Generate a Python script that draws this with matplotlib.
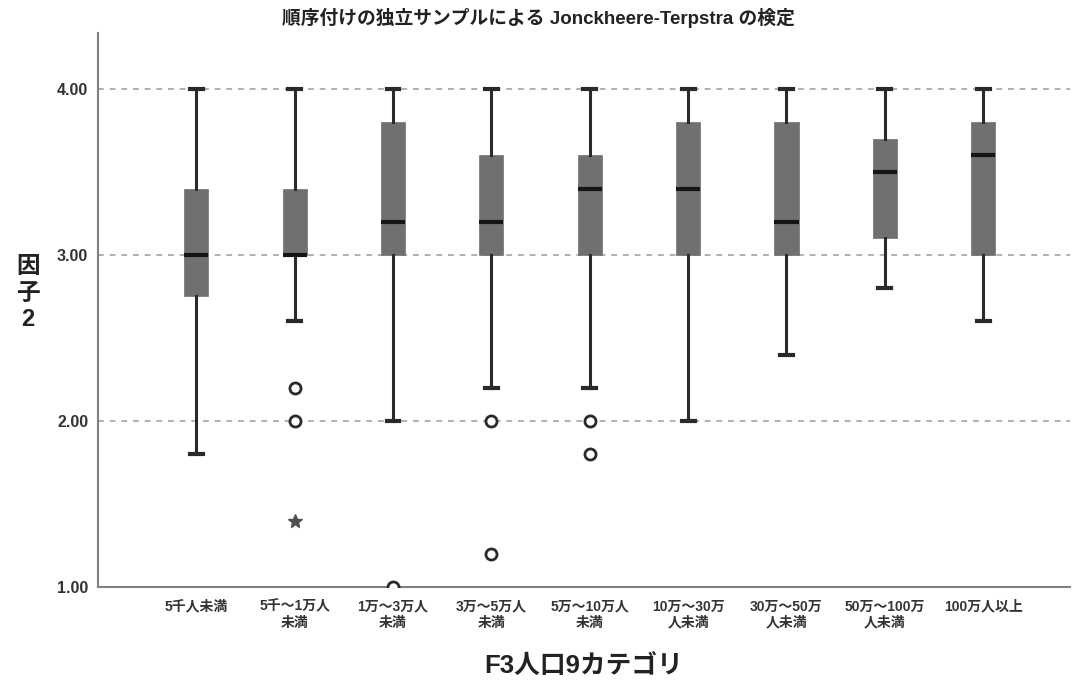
import matplotlib
matplotlib.use("Agg")
import matplotlib.pyplot as plt

# Latin glyphs from Liberation Sans, Japanese falls through to Noto CJK
plt.rcParams['font.family'] = ['Liberation Sans', 'Noto Sans CJK JP', 'DejaVu Sans']

# population categories (x axis)
categories = ["5千人未満", "5千～1万人\n未満", "1万～3万人\n未満", "3万～5万人\n未満",
              "5万～10万人\n未満", "10万～30万\n人未満", "30万～50万\n人未満",
              "50万～100万\n人未満", "100万人以上"]

# box statistics
whisker_low = [1.8, 2.6, 2.0, 2.2, 2.2, 2.0, 2.4, 2.8, 2.6]
q1 = [2.75, 3.0, 3.0, 3.0, 3.0, 3.0, 3.0, 3.1, 3.0]
medians = [3.0, 3.0, 3.2, 3.2, 3.4, 3.4, 3.2, 3.5, 3.6]
q3 = [3.4, 3.4, 3.8, 3.6, 3.6, 3.8, 3.8, 3.7, 3.8]
whisker_high = [4.0, 4.0, 4.0, 4.0, 4.0, 4.0, 4.0, 4.0, 4.0]

# outliers (circles) and extremes (stars)
outliers = [[], [2.2, 2.0], [1.0], [2.0, 1.2], [2.0, 1.8], [], [], [], []]
extremes = [[], [1.4], [], [], [], [], [], [], []]

yticks = [1.0, 2.0, 3.0, 4.0]

fig = plt.figure(figsize=(10.73, 6.8), dpi=100)
ax = fig.add_axes([0.0913, 0.1368, 0.9057, 0.8147])

stats = []
for i in range(len(categories)):
    stats.append({'whislo': whisker_low[i], 'q1': q1[i], 'med': medians[i],
                  'q3': q3[i], 'whishi': whisker_high[i], 'fliers': outliers[i]})

pos = list(range(1, len(categories) + 1))
ax.bxp(stats, positions=pos, widths=0.245, patch_artist=True,
       boxprops=dict(facecolor='#707070', edgecolor='#707070', linewidth=0.5),
       medianprops=dict(color='#151515', linewidth=3),
       whiskerprops=dict(color='#2a2a2a', linewidth=2.2),
       capprops=dict(color='#2a2a2a', linewidth=3),
       capwidths=0.13,
       flierprops=dict(marker='o', markersize=8, markerfacecolor='white',
                       markeredgecolor='#2a2a2a', markeredgewidth=2),
       zorder=3)

for p, ext in zip(pos, extremes):
    if ext:
        ax.plot([p] * len(ext), ext, linestyle='none', marker='*', markersize=10,
                color='#505050', zorder=4)

for y in yticks[1:]:
    ax.axhline(y, color='#b0b0b0', linestyle=(0, (3, 3)), linewidth=1.4, zorder=1)

ax.set_xlim(0, 9.88)
ax.set_ylim(1.0, 4.337)
ax.set_yticks(yticks)
ax.set_yticklabels(["%.2f" % v for v in yticks], fontsize=11.5, fontweight='bold',
                   color='#333333')
ax.set_xticks(pos)
ax.set_xticklabels(categories, fontsize=10, fontweight='bold', color='#333333',
                   linespacing=1.2)
ax.tick_params(axis='y', length=0, pad=7)
ax.tick_params(axis='x', length=0, pad=9)

for s in ['top', 'right']:
    ax.spines[s].set_visible(False)
ax.spines['left'].set_color('#808080')
ax.spines['bottom'].set_color('#808080')
ax.spines['left'].set_linewidth(1.5)
ax.spines['bottom'].set_linewidth(1.5)

ax.set_ylabel("因\n子\n2", rotation=0, fontsize=17, fontweight='bold',
              color='#222222', linespacing=1.2, va='center', ha='center')
ax.yaxis.set_label_coords(-0.072, 0.530)
ax.set_xlabel("F3人口9カテゴリ", fontsize=18.5, fontweight='bold', color='#222222',
              labelpad=18)
fig.text(0.502, 0.973, "順序付けの独立サンプルによる Jonckheere-Terpstra の検定",
         ha='center', va='center', fontsize=13.5, fontweight='bold', color='#222222')

fig.savefig("out.png", dpi=100)
